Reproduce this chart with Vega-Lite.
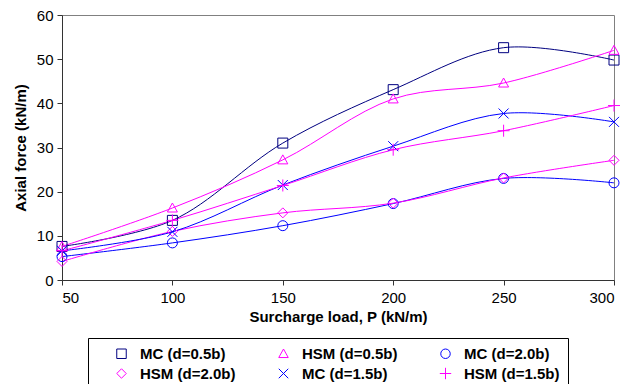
{
  "$schema": "https://vega.github.io/schema/vega-lite/v6.json",
  "width": 552,
  "height": 265,
  "autosize": "none",
  "padding": {"left": 62, "top": 15, "right": 14, "bottom": 104},
  "background": "white",
  "config": {
    "font": "Liberation Sans",
    "view": {"stroke": "#808080", "strokeWidth": 1},
    "axis": {"grid": false, "domainColor": "#333333", "tickColor": "#333333", "labelColor": "#000000", "titleColor": "#000000", "labelFont": "Liberation Sans", "titleFont": "Liberation Sans", "labelFontSize": 15, "titleFontSize": 15, "titleFontWeight": "bold", "labelFontWeight": "normal"}
  },
  "data": {"values": [
    {"series": "MC (d=0.5b)", "P": 50, "F": 7.6},
    {"series": "MC (d=0.5b)", "P": 100, "F": 13.5},
    {"series": "MC (d=0.5b)", "P": 150, "F": 31.0},
    {"series": "MC (d=0.5b)", "P": 200, "F": 43.1},
    {"series": "MC (d=0.5b)", "P": 250, "F": 52.6},
    {"series": "MC (d=0.5b)", "P": 300, "F": 49.8},
    {"series": "HSM (d=0.5b)", "P": 50, "F": 7.6},
    {"series": "HSM (d=0.5b)", "P": 100, "F": 16.3},
    {"series": "HSM (d=0.5b)", "P": 150, "F": 27.2},
    {"series": "HSM (d=0.5b)", "P": 200, "F": 41.0},
    {"series": "HSM (d=0.5b)", "P": 250, "F": 44.6},
    {"series": "HSM (d=0.5b)", "P": 300, "F": 52.0},
    {"series": "MC (d=2.0b)", "P": 50, "F": 5.3},
    {"series": "MC (d=2.0b)", "P": 100, "F": 8.4},
    {"series": "MC (d=2.0b)", "P": 150, "F": 12.3},
    {"series": "MC (d=2.0b)", "P": 200, "F": 17.3},
    {"series": "MC (d=2.0b)", "P": 250, "F": 23.0},
    {"series": "MC (d=2.0b)", "P": 300, "F": 22.0},
    {"series": "HSM (d=2.0b)", "P": 50, "F": 4.2},
    {"series": "HSM (d=2.0b)", "P": 100, "F": 11.0},
    {"series": "HSM (d=2.0b)", "P": 150, "F": 15.2},
    {"series": "HSM (d=2.0b)", "P": 200, "F": 17.4},
    {"series": "HSM (d=2.0b)", "P": 250, "F": 23.1},
    {"series": "HSM (d=2.0b)", "P": 300, "F": 27.1},
    {"series": "MC (d=1.5b)", "P": 50, "F": 6.6},
    {"series": "MC (d=1.5b)", "P": 100, "F": 10.9},
    {"series": "MC (d=1.5b)", "P": 150, "F": 21.5},
    {"series": "MC (d=1.5b)", "P": 200, "F": 30.3},
    {"series": "MC (d=1.5b)", "P": 250, "F": 37.7},
    {"series": "MC (d=1.5b)", "P": 300, "F": 35.8},
    {"series": "HSM (d=1.5b)", "P": 50, "F": 6.6},
    {"series": "HSM (d=1.5b)", "P": 100, "F": 13.5},
    {"series": "HSM (d=1.5b)", "P": 150, "F": 21.4},
    {"series": "HSM (d=1.5b)", "P": 200, "F": 29.5},
    {"series": "HSM (d=1.5b)", "P": 250, "F": 33.8},
    {"series": "HSM (d=1.5b)", "P": 300, "F": 39.5}
  ]},
  "encoding": {
    "x": {"field": "P", "type": "quantitative", "scale": {"domain": [50, 300], "nice": false, "zero": false}, "axis": {"values": [50, 100, 150, 200, 250, 300], "title": "Surcharge load, P (kN/m)", "tickSize": 5, "labelPadding": 5, "titlePadding": 4}},
    "y": {"field": "F", "type": "quantitative", "scale": {"domain": [0, 60], "nice": false}, "axis": {"values": [0, 10, 20, 30, 40, 50, 60], "title": "Axial force (kN/m)", "tickSize": 5, "labelPadding": 4, "titlePadding": 8}},
    "color": {"field": "series", "type": "nominal", "scale": {"domain": ["MC (d=0.5b)", "HSM (d=0.5b)", "MC (d=2.0b)", "HSM (d=2.0b)", "MC (d=1.5b)", "HSM (d=1.5b)"], "range": ["#000080", "#FF00FF", "#0000FF", "#FF00FF", "#0000FF", "#FF00FF"]}}
  },
  "layer": [
    {
      "mark": {"type": "line", "interpolate": "catmull-rom", "strokeWidth": 1}
    },
    {
      "mark": {"type": "point", "filled": false, "size": 100, "strokeWidth": 1, "opacity": 1},
      "encoding": {
        "shape": {"field": "series", "type": "nominal", "scale": {"domain": ["MC (d=0.5b)", "HSM (d=0.5b)", "MC (d=2.0b)", "HSM (d=2.0b)", "MC (d=1.5b)", "HSM (d=1.5b)"], "range": ["M-1,-1H1V1H-1Z", "M0,-1L1,0.8H-1Z", "M1,0A1,1,0,1,1,-1,0A1,1,0,1,1,1,0Z", "M0,-1L1,0L0,1L-1,0Z", "M-1,-1L1,1M1,-1L-1,1", "M-1.2,0H1.2M0,-1.2V1.2"]},
          "legend": {
            "orient": "none", "legendX": 26, "legendY": 323, "direction": "horizontal", "columns": 3, "title": null,
            "strokeColor": "#000000", "padding": 8, "columnPadding": 22, "rowPadding": 3,
            "symbolSize": 90, "symbolStrokeWidth": 1, "symbolOffset": 18, "labelOffset": 11,
            "labelFont": "Liberation Sans", "labelFontSize": 15, "labelFontWeight": "bold", "labelColor": "#000000", "labelLimit": 200
          }
        }
      }
    }
  ]
}
